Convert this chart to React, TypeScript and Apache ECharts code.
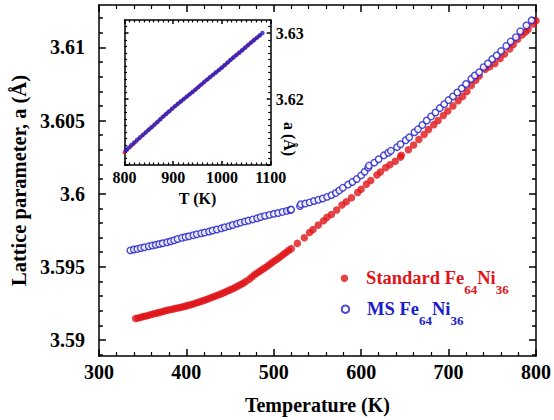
import React, { useEffect, useRef } from "react";
import * as echarts from "echarts";

const RED = "#e01419";
const BLUE = "#1c1cc8";
const FONT = '"Liberation Serif", "Times New Roman", serif';

// Main axes
const mainXMin = 300;
const mainXMax = 800;
const mainYMin = 3.5889;
const mainYMax = 3.6129;
const mainYLabels = [3.59, 3.595, 3.6, 3.605, 3.61];
const mainYMinor = [
  3.589, 3.591, 3.592, 3.593, 3.594, 3.596, 3.597, 3.598, 3.599, 3.601, 3.602,
  3.603, 3.604, 3.606, 3.607, 3.608, 3.609, 3.611, 3.612,
];

// Inset axes
const insetXMin = 800;
const insetXMax = 1100;
const insetYMin = 3.61;
const insetYMax = 3.632;
const insetYLabels = [3.62, 3.63];
const insetYMajor = [3.61, 3.62, 3.63];
const insetYMinor = [
  3.611, 3.612, 3.613, 3.614, 3.615, 3.616, 3.617, 3.618, 3.619, 3.621, 3.622,
  3.623, 3.624, 3.625, 3.626, 3.627, 3.628, 3.629, 3.631,
];

// Standard Fe64Ni36 (T in K, a in Å)
const standardMain: [number, number][] = [
  [342, 3.59146], [345, 3.5915], [348, 3.59155], [351, 3.5916], [354, 3.59164],
  [357, 3.59169], [360, 3.59174], [363, 3.59179], [366, 3.59183], [369, 3.59188],
  [372, 3.59193], [375, 3.59197], [378, 3.59202], [381, 3.59206], [384, 3.5921],
  [387, 3.59214], [390, 3.59218], [393, 3.59222], [396, 3.59227], [399, 3.59231],
  [402, 3.59236], [405, 3.59241], [408, 3.59246], [411, 3.59252], [414, 3.59258],
  [417, 3.59264], [420, 3.5927], [423, 3.59276], [426, 3.59283], [429, 3.5929],
  [432, 3.59297], [435, 3.59304], [438, 3.59311], [441, 3.59318], [444, 3.59326],
  [447, 3.59334], [450, 3.59342], [453, 3.5935], [456, 3.59359], [459, 3.59368],
  [462, 3.59378], [465, 3.59388], [468, 3.59399], [472, 3.59415], [475, 3.5943],
  [478, 3.59445], [481, 3.59458], [484, 3.5947], [487, 3.59482], [490, 3.59494],
  [493, 3.59506], [496, 3.59519], [499, 3.59532], [502, 3.59545], [505, 3.59557],
  [508, 3.5957], [511, 3.59584], [514, 3.59598], [517, 3.59612], [520, 3.59624],
  [527, 3.5966], [535, 3.59698], [541, 3.59735], [545, 3.59755], [551, 3.59785],
  [557, 3.59815], [561, 3.59838], [566, 3.59858], [572, 3.59888], [578, 3.59922],
  [583, 3.59945], [589, 3.59972], [596, 3.60008], [600, 3.6003], [606, 3.60065],
  [611, 3.6009], [618, 3.60128], [622, 3.60148], [628, 3.60178], [633, 3.60198],
  [639, 3.60222], [645, 3.6025], [646, 3.60262], [654, 3.603], [660, 3.60333],
  [666, 3.6037], [672, 3.60405], [677, 3.60438], [683, 3.60472], [688, 3.605],
  [694, 3.60535], [699, 3.60565], [705, 3.606], [711, 3.60635], [716, 3.60665],
  [721, 3.60698], [726, 3.6074], [731, 3.60775], [735, 3.60805], [742, 3.6085],
  [747, 3.60868], [753, 3.6089], [759, 3.60925], [764, 3.60955], [770, 3.6099],
  [774, 3.6102], [779, 3.61055], [784, 3.61085], [788, 3.61105], [791, 3.61125],
  [797, 3.6116], [800, 3.61182],
];

// MS Fe64Ni36
const msMain: [number, number][] = [
  [336, 3.59612], [340, 3.59618], [344, 3.59622], [348, 3.59628], [352, 3.59633],
  [357, 3.5964], [361, 3.59645], [365, 3.5965], [369, 3.59656], [373, 3.59661],
  [378, 3.59668], [382, 3.59674], [386, 3.59681], [390, 3.5969], [395, 3.59698],
  [399, 3.59704], [403, 3.59709], [408, 3.59716], [412, 3.59722], [417, 3.59729],
  [421, 3.59734], [426, 3.59741], [430, 3.59748], [435, 3.59755], [440, 3.59763],
  [444, 3.5977], [449, 3.59778], [453, 3.59786], [458, 3.59795], [462, 3.59802],
  [467, 3.5981], [471, 3.59816], [476, 3.59824], [481, 3.59832], [485, 3.5984],
  [490, 3.59848], [495, 3.59855], [500, 3.59862], [505, 3.59868], [510, 3.59875],
  [515, 3.59882], [519, 3.59888], [520, 3.59891], [530, 3.59915], [531, 3.59928],
  [536, 3.59932], [541, 3.5994], [546, 3.5995], [551, 3.59958], [556, 3.59967],
  [561, 3.59978], [566, 3.5999], [571, 3.60005], [575, 3.60022], [579, 3.6004],
  [585, 3.60062], [590, 3.6008], [595, 3.601], [600, 3.60125], [604, 3.6015],
  [608, 3.60178], [609, 3.60192], [615, 3.60212], [620, 3.60235], [626, 3.60262],
  [631, 3.6028], [634, 3.60293], [641, 3.60318], [645, 3.60338], [651, 3.60365],
  [655, 3.60385], [661, 3.6042], [665, 3.6044], [670, 3.6047], [675, 3.605],
  [680, 3.60528], [685, 3.60555], [690, 3.60585], [695, 3.60612], [700, 3.6064],
  [705, 3.60665], [710, 3.60692], [715, 3.6072], [720, 3.6075], [726, 3.60785],
  [730, 3.60808], [735, 3.6083], [740, 3.60865], [745, 3.6089], [750, 3.6092],
  [755, 3.60945], [760, 3.60975], [766, 3.6101], [771, 3.6104], [777, 3.6107],
  [782, 3.6111], [789, 3.6115], [795, 3.61185],
];

// Inset: high temperature
const standardInset: [number, number][] = [
  [800, 3.6119], [806, 3.61232], [812, 3.61274], [818, 3.61316], [824, 3.61358],
  [830, 3.614], [836, 3.61442], [842, 3.61483], [848, 3.61522], [854, 3.61561],
  [860, 3.616], [866, 3.61642], [872, 3.61684], [878, 3.61727], [884, 3.61766],
  [890, 3.61805], [896, 3.61844], [902, 3.61882], [908, 3.61918], [914, 3.61954],
  [920, 3.6199], [926, 3.62026], [932, 3.62062], [938, 3.62098], [944, 3.62134],
  [950, 3.62171], [956, 3.6221], [962, 3.62249], [968, 3.62288], [974, 3.62324],
  [980, 3.6236], [986, 3.62396], [992, 3.62432], [998, 3.62468], [1004, 3.62506],
  [1010, 3.62545], [1016, 3.62584], [1022, 3.62623], [1028, 3.6266], [1034, 3.62696],
  [1040, 3.62732], [1046, 3.62771], [1052, 3.6281], [1058, 3.62849], [1064, 3.62886],
  [1070, 3.62922], [1076, 3.62958],
];

const msInset: [number, number][] = [
  [803, 3.61225], [808, 3.61262], [814, 3.61302], [820, 3.61342], [826, 3.61382],
  [832, 3.61421], [838, 3.6146], [844, 3.61499], [850, 3.61538], [856, 3.61577],
  [862, 3.61617], [868, 3.61657], [874, 3.61698], [880, 3.61738], [886, 3.61778],
  [892, 3.61817], [898, 3.61856], [904, 3.61894], [910, 3.61931], [916, 3.61968],
  [922, 3.62004], [928, 3.6204], [934, 3.62076], [940, 3.62112], [946, 3.62148],
  [952, 3.62186], [958, 3.62224], [964, 3.62262], [970, 3.62299], [976, 3.62335],
  [982, 3.62371], [988, 3.62407], [994, 3.62443], [1000, 3.6248], [1006, 3.62518],
  [1012, 3.62557], [1018, 3.62596], [1024, 3.62634], [1030, 3.62671], [1036, 3.62707],
  [1042, 3.62744], [1048, 3.62783], [1054, 3.62822], [1060, 3.6286], [1066, 3.62897],
  [1072, 3.62933], [1078, 3.6297], [1083, 3.63002],
];

const STD_NAME = "Standard Fe64Ni36";
const MS_NAME = "MS Fe64Ni36";

const lineStyle = { color: "#000", width: 1.5 };

function fmt(v: number) {
  return String(+Number(v).toFixed(4));
}

function xAxisDef(grid: number, pos: "bottom" | "top", min: number, max: number, o: any) {
  return {
    type: "value",
    gridIndex: grid,
    position: pos,
    min,
    max,
    interval: 100,
    axisLine: { show: true, onZero: false, lineStyle },
    axisTick: { show: true, inside: true, length: o.tick, lineStyle },
    minorTick: { show: true, splitNumber: o.split, length: o.minor, lineStyle: { color: "#000", width: 1.2 } },
    splitLine: { show: false },
    minorSplitLine: { show: false },
    axisLabel: o.label
      ? { show: true, formatter: fmt, color: "#000", fontFamily: FONT, fontWeight: "bold", fontSize: o.fontSize, margin: o.margin }
      : { show: false },
    ...(o.name
      ? {
          name: o.name,
          nameLocation: "middle",
          nameGap: o.nameGap,
          nameTextStyle: { color: "#000", fontFamily: FONT, fontWeight: "bold", fontSize: o.nameSize },
        }
      : {}),
  };
}

function yAxisDef(grid: number, pos: "left" | "right", min: number, max: number, o: any) {
  return {
    type: "value",
    gridIndex: grid,
    position: pos,
    min,
    max,
    axisLine: { show: o.line, onZero: false, lineStyle },
    axisTick: { show: true, inside: true, length: o.tick, customValues: o.ticks, lineStyle: o.tick > 3 ? lineStyle : { color: "#000", width: 1.2 } },
    splitLine: { show: false },
    axisLabel: o.labels
      ? {
          show: true,
          customValues: o.labels,
          formatter: fmt,
          color: "#000",
          fontFamily: FONT,
          fontWeight: "bold",
          fontSize: o.fontSize,
          margin: o.margin,
        }
      : { show: false },
    ...(o.name
      ? {
          name: o.name,
          nameLocation: "middle",
          nameRotate: 90,
          nameGap: o.nameGap,
          nameTextStyle: { color: "#000", fontFamily: FONT, fontWeight: "bold", fontSize: o.nameSize },
        }
      : {}),
  };
}

function legendDef(name: string, top: number, color: string, main: string) {
  return {
    data: [name],
    left: 340.7,
    top,
    padding: 0,
    itemWidth: 33.3,
    itemHeight: 7.5,
    selectedMode: false,
    formatter: () => `{n|${main}Fe}{s|64}{n|Ni}{s|36}`,
    textStyle: {
      color,
      fontFamily: FONT,
      fontWeight: "bold",
      fontSize: 18.5,
      rich: {
        n: { color, fontFamily: FONT, fontWeight: "bold", fontSize: 18.5, lineHeight: 36 },
        s: { color, fontFamily: FONT, fontWeight: "bold", fontSize: 13, lineHeight: 13, verticalAlign: "bottom" },
      },
    },
  };
}

export default function App() {
  const ref = useRef<HTMLDivElement>(null);
  useEffect(() => {
    if (!ref.current) return;
    const chart = echarts.init(ref.current, undefined, { renderer: "svg" });
    chart.setOption({
      animation: false,
      backgroundColor: "#fff",
      grid: [
        { left: 98, top: 5, right: 15.5, bottom: 64, show: false },
        { left: 124.5, top: 20, right: 283.3, bottom: 255, show: true, backgroundColor: "#fff", borderWidth: 0 },
      ],
      xAxis: [
        xAxisDef(0, "bottom", mainXMin, mainXMax, {
          tick: 7, minor: 4, split: 5, label: true, fontSize: 20, margin: 6,
          name: "Temperature (K)", nameGap: 39, nameSize: 20,
        }),
        xAxisDef(0, "top", mainXMin, mainXMax, { tick: 7, minor: 4, split: 5, label: false }),
        xAxisDef(1, "bottom", insetXMin, insetXMax, {
          tick: 4, minor: 2.5, split: 10, label: true, fontSize: 16, margin: 4,
          name: "T (K)", nameGap: 25, nameSize: 16,
        }),
        xAxisDef(1, "top", insetXMin, insetXMax, { tick: 4, minor: 2.5, split: 10, label: false }),
      ],
      yAxis: [
        yAxisDef(0, "left", mainYMin, mainYMax, {
          line: true, tick: 7, ticks: mainYLabels, labels: mainYLabels, fontSize: 20, margin: 14,
          name: "Lattice parameter, a (Å)", nameGap: 68, nameSize: 20.5,
        }),
        yAxisDef(0, "left", mainYMin, mainYMax, { line: false, tick: 4, ticks: mainYMinor }),
        yAxisDef(0, "right", mainYMin, mainYMax, { line: true, tick: 7, ticks: mainYLabels }),
        yAxisDef(0, "right", mainYMin, mainYMax, { line: false, tick: 4, ticks: mainYMinor }),
        yAxisDef(1, "left", insetYMin, insetYMax, { line: true, tick: 4, ticks: insetYMajor }),
        yAxisDef(1, "left", insetYMin, insetYMax, { line: false, tick: 2.5, ticks: insetYMinor }),
        yAxisDef(1, "right", insetYMin, insetYMax, {
          line: true, tick: 4, ticks: insetYMajor, labels: insetYLabels, fontSize: 16, margin: 5,
        }),
        yAxisDef(1, "right", insetYMin, insetYMax, { line: false, tick: 2.5, ticks: insetYMinor }),
      ],
      legend: [legendDef(STD_NAME, 268.7, RED, "Standard "), legendDef(MS_NAME, 299.7, BLUE, "MS ")],
      graphic: [
        {
          type: "text",
          x: 289,
          y: 139,
          rotation: -Math.PI / 2,
          style: {
            text: "a (Å)",
            fill: "#000",
            font: `bold 16px ${FONT}`,
            align: "center",
            verticalAlign: "middle",
            textAlign: "center",
            textVerticalAlign: "middle",
          },
        },
      ],
      series: [
        {
          name: STD_NAME,
          type: "scatter",
          xAxisIndex: 0,
          yAxisIndex: 0,
          symbol: "circle",
          symbolSize: 7.5,
          itemStyle: { color: RED },
          data: standardMain,
        },
        {
          name: MS_NAME,
          type: "scatter",
          xAxisIndex: 0,
          yAxisIndex: 0,
          symbol: "circle",
          symbolSize: 6.5,
          itemStyle: { color: "#fff", borderColor: BLUE, borderWidth: 1.4 },
          data: msMain,
        },
        {
          name: "inset-standard",
          type: "scatter",
          xAxisIndex: 2,
          yAxisIndex: 4,
          symbol: "circle",
          symbolSize: 4,
          itemStyle: { color: RED },
          data: standardInset,
        },
        {
          name: "inset-ms",
          type: "scatter",
          xAxisIndex: 2,
          yAxisIndex: 4,
          symbol: "circle",
          symbolSize: 4.5,
          itemStyle: { color: BLUE },
          data: msInset,
        },
      ],
    });
    return () => chart.dispose();
  }, []);
  return <div ref={ref} style={{ width: 554, height: 420, position: "absolute", left: 0, top: 0 }} />;
}
